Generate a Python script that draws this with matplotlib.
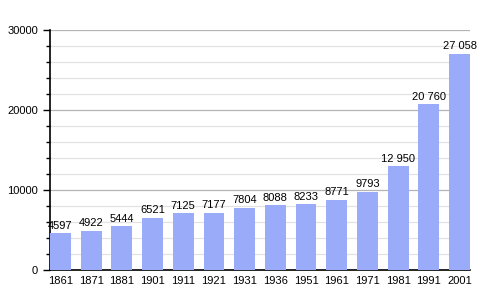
import numpy as np
import matplotlib.pyplot as plt
from matplotlib.ticker import MultipleLocator

years = ["1861", "1871", "1881", "1901", "1911", "1921", "1931",
         "1936", "1951", "1961", "1971", "1981", "1991", "2001"]
population = [4597, 4922, 5444, 6521, 7125, 7177, 7804,
              8088, 8233, 8771, 9793, 12950, 20760, 27058]

plt.rcParams["font.family"] = ["Liberation Sans", "DejaVu Sans"]

fig = plt.figure(figsize=(5, 3), dpi=100)
ax = fig.add_axes([0.10, 0.10, 0.84, 0.80])

x = np.arange(len(years))
w = 0.68
ax.bar(x, population, width=w, color="#9aabfa", zorder=3)

for xi, v in zip(x, population):
    label = f"{v:,}".replace(",", " ") if v >= 10000 else str(v)
    ax.text(xi, v + 300, label, ha="center", va="bottom", fontsize=8, zorder=4)

ax.set_xlim(-w / 2, len(years) - 1 + w / 2)
ax.set_ylim(0, 30000)
ax.set_xticks(x)
ax.set_xticklabels(years)
ax.yaxis.set_major_locator(MultipleLocator(10000))
ax.yaxis.set_minor_locator(MultipleLocator(2000))
ax.grid(axis="y", which="major", color="#b4b4b4", linewidth=0.9, zorder=0)
ax.grid(axis="y", which="minor", color="#e2e2e2", linewidth=0.9, zorder=0)

for s in ["top", "right"]:
    ax.spines[s].set_visible(False)
ax.spines["left"].set_linewidth(1.2)
ax.spines["bottom"].set_linewidth(1.2)
ax.tick_params(axis="x", length=0, labelsize=8, pad=4)
ax.tick_params(axis="y", which="major", length=5, labelsize=8, width=1)
ax.tick_params(axis="y", which="minor", length=3, width=1)

fig.savefig("out.png", dpi=100)
